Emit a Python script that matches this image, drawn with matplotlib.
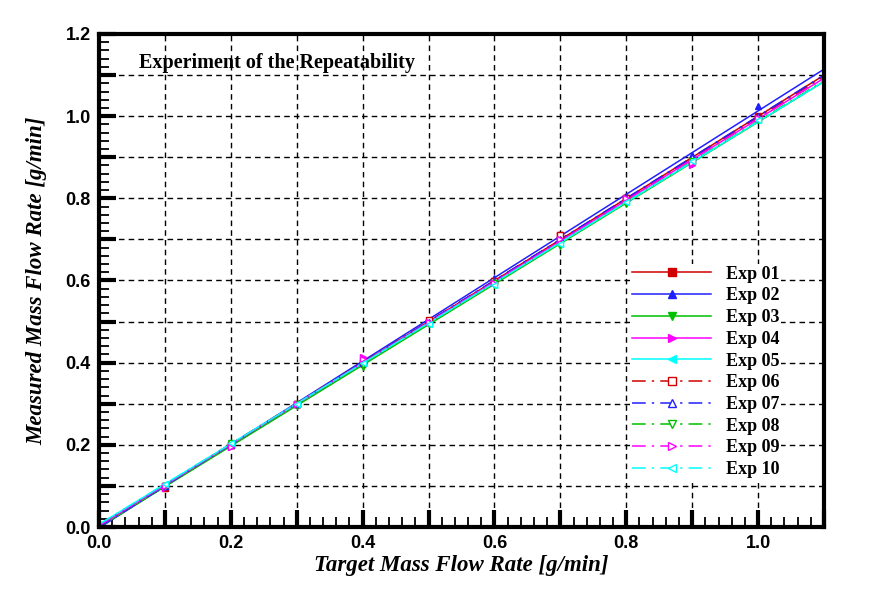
import numpy as np
import matplotlib
matplotlib.use("Agg")
import matplotlib.pyplot as plt
from matplotlib.ticker import MultipleLocator, FuncFormatter
from matplotlib.lines import Line2D

target = [0.1, 0.2, 0.3, 0.4, 0.5, 0.6, 0.7, 0.8, 0.9, 1.0]
labels = ["Exp 01", "Exp 02", "Exp 03", "Exp 04", "Exp 05",
          "Exp 06", "Exp 07", "Exp 08", "Exp 09", "Exp 10"]
exp01 = [0.095, 0.200, 0.300, 0.400, 0.500, 0.600, 0.710, 0.800, 0.890, 1.000]
exp02 = [0.100, 0.205, 0.300, 0.405, 0.505, 0.605, 0.705, 0.805, 0.905, 1.025]
exp03 = [0.100, 0.200, 0.295, 0.390, 0.495, 0.590, 0.685, 0.785, 0.890, 0.990]
exp04 = [0.095, 0.195, 0.300, 0.415, 0.500, 0.595, 0.700, 0.800, 0.880, 0.995]
exp05 = [0.105, 0.205, 0.300, 0.400, 0.495, 0.590, 0.690, 0.790, 0.890, 0.990]
exp06 = [0.100, 0.200, 0.300, 0.400, 0.505, 0.600, 0.710, 0.800, 0.890, 0.995]
exp07 = [0.100, 0.200, 0.300, 0.400, 0.500, 0.600, 0.700, 0.800, 0.900, 1.000]
exp08 = [0.100, 0.205, 0.300, 0.395, 0.495, 0.595, 0.690, 0.790, 0.890, 0.990]
exp09 = [0.100, 0.195, 0.300, 0.410, 0.500, 0.595, 0.700, 0.800, 0.885, 0.995]
exp10 = [0.105, 0.205, 0.300, 0.400, 0.495, 0.590, 0.690, 0.790, 0.890, 0.990]
series = [exp01, exp02, exp03, exp04, exp05, exp06, exp07, exp08, exp09, exp10]

colors = ["#d00000", "#2020ff", "#00c000", "#ff00ff", "#00ffff"] * 2
markers = ["s", "^", "v", ">", "<"] * 2
filled = [True] * 5 + [False] * 5
dashdot = (0, (9, 4, 1.5, 4))

fig = plt.figure(figsize=(8.92, 5.94), dpi=100)
ax = fig.add_axes([99 / 892, 1 - 527 / 594, 725 / 892, 493 / 594])

xf = np.array([0.0, 1.1])
handles = []
for i, (ys, c, m, f, lab) in enumerate(zip(series, colors, markers, filled, labels)):
    ls = "-" if i < 5 else dashdot
    p = np.polyfit(target, ys, 1)
    ax.plot(xf, np.polyval(p, xf), color=c, lw=1.1, ls=ls, zorder=3)
    mfc = c if f else "white"
    ax.plot(target, ys, ls="none", marker=m, ms=5.0, color=c, mfc=mfc,
            mec=c, mew=1.0, zorder=4)
    handles.append(Line2D([], [], color=c, lw=1.1, ls=ls, marker=m, ms=6.0,
                          mfc=mfc, mec=c, mew=1.0))

ax.set_xlim(0, 1.1)
ax.set_ylim(0, 1.2)

fmt = FuncFormatter(lambda v, pos: f"{v:.1f}" if abs(round(v * 10) % 2) == 0 else "")
for axis in (ax.xaxis, ax.yaxis):
    axis.set_major_locator(MultipleLocator(0.1))
    axis.set_minor_locator(MultipleLocator(0.02))
    axis.set_major_formatter(fmt)

ax.tick_params(which="major", direction="in", length=12, width=3,
               top=False, right=False, pad=6)
ax.tick_params(which="minor", direction="in", length=7, width=1.3,
               top=False, right=False)
for lab in ax.get_xticklabels() + ax.get_yticklabels():
    lab.set_fontfamily("Liberation Sans")
    lab.set_fontweight("bold")
    lab.set_fontsize(13)

ax.grid(which="major", color="black", ls=(0, (4, 3)), lw=1.0, zorder=1)
for s in ax.spines.values():
    s.set_linewidth(3.0)
    s.set_zorder(6)

ax.set_xlabel("Target Mass Flow Rate [g/min]", family="Liberation Serif",
              style="italic", weight="bold", fontsize=16.5)
ax.set_ylabel("Measured Mass Flow Rate [g/min]", family="Liberation Serif",
              style="italic", weight="bold", fontsize=16.5)
ax.xaxis.set_label_coords(0.5, -(555 - 527) / 493)
ax.yaxis.set_label_coords((47 - 99) / 725, 0.5)

ax.text(0.06, 1.13, "Experiment of the Repeatability", family="Liberation Serif",
        weight="bold", fontsize=14.5, va="center", ha="left", zorder=5)

leg = ax.legend(handles, labels, loc="upper left",
                bbox_to_anchor=((630 - 99) / 725, (527 - 264) / 493),
                prop={"family": "Liberation Serif", "weight": "bold", "size": 13},
                handlelength=4.4, handletextpad=0.8, labelspacing=0.26,
                borderpad=0.1, borderaxespad=0, frameon=True, fancybox=False,
                numpoints=1)
leg.get_frame().set_facecolor("white")
leg.get_frame().set_edgecolor("none")
leg.get_frame().set_alpha(1)
leg.set_zorder(5)

fig.savefig("out.png", dpi=100)
